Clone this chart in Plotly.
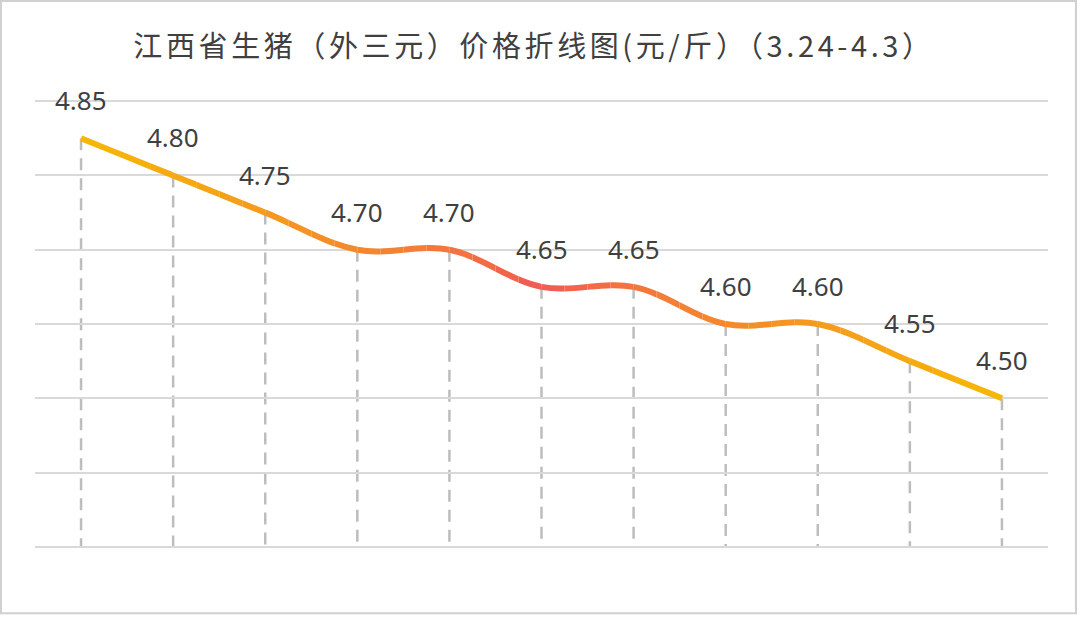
import plotly.graph_objects as go

# dates (not shown on axis) and pig prices, yuan/jin
dates = ["3.24", "3.25", "3.26", "3.27", "3.28", "3.29", "3.30", "3.31", "4.1", "4.2", "4.3"]
prices = [4.85, 4.80, 4.75, 4.70, 4.70, 4.65, 4.65, 4.60, 4.60, 4.55, 4.50]

title_text = "江西省生猪（外三元）价格折线图(元/斤）（3.24-4.3）"
y_min, y_max = 4.3, 4.9

RED = (242, 84, 88)
GOLD = (246, 184, 6)
N_BANDS = 44


def band_color(t):
    # t = 0 at centre of chart (red), 1 at the ends (gold)
    f = min(t, 1.0) ** 0.7
    r, g, b = [round(a + (c - a) * f) for a, c in zip(RED, GOLD)]
    return f"rgb({r},{g},{b})"


fig = go.Figure()

n = len(dates)
lo, hi = -0.5, n - 0.5
mid = (n - 1) / 2

# main x axis: full width, used by the drop lines and the labels
fig.add_trace(go.Scatter(x=dates, y=prices, mode="markers", marker=dict(opacity=0),
                         hoverinfo="skip", showlegend=False))
fig.update_layout(xaxis=dict(type="category", categoryorder="array", categoryarray=dates,
                             range=[lo, hi], visible=False, showgrid=False,
                             zeroline=False, fixedrange=True))

# dashed drop lines from each point to the bottom
for i, p in enumerate(prices):
    fig.add_shape(type="line", xref="x", yref="y", x0=i, x1=i, y0=p, y1=y_min,
                  line=dict(color="#bdbdbd", width=2.5, dash="12px,8px"), layer="between")

# the same smooth line drawn once per vertical band, each band clipped by its own x axis
for k in range(N_BANDS):
    d0, d1 = k / N_BANDS, (k + 1) / N_BANDS
    r0, r1 = lo + (hi - lo) * d0, lo + (hi - lo) * d1
    t = abs((r0 + r1) / 2 - mid) / mid
    ax_id = k + 2
    fig.add_trace(go.Scatter(
        x=dates, y=prices,
        mode="lines",
        line=dict(color=band_color(t), width=6, shape="spline", smoothing=1),
        xaxis=f"x{ax_id}", yaxis="y",
        hoverinfo="x+y",
        showlegend=False,
    ))
    fig.update_layout({f"xaxis{ax_id}": dict(
        type="category", categoryorder="array", categoryarray=dates,
        domain=[d0, d1], range=[r0, r1], anchor="y", visible=False,
        showgrid=False, zeroline=False, fixedrange=True)})

# value labels
for i, p in enumerate(prices):
    fig.add_annotation(x=i, y=p, xref="x", yref="y", text=f"{p:.2f}", showarrow=False, yshift=38,
                       font=dict(family="Noto Sans, Open Sans, sans-serif", size=26, color="#404040"))

# outer chart border
fig.add_shape(type="rect", xref="paper", yref="paper",
              x0=-0.0336, x1=1.0276, y0=-0.143, y1=1.218,
              line=dict(color="#d0d0d0", width=2), fillcolor="rgba(0,0,0,0)", layer="below")

fig.update_layout(
    width=1080, height=633,
    margin=dict(l=35, r=32, t=99, b=84),
    paper_bgcolor="white", plot_bgcolor="rgba(0,0,0,0)",
    title=dict(text=f'<span style="letter-spacing:3.6px">{title_text}</span>',
               x=534 / 1080, xref="container", xanchor="center",
               y=1 - 47 / 633, yref="container", yanchor="middle",
               font=dict(family="Noto Sans CJK SC, sans-serif", size=29, color="#404040")),
    yaxis=dict(range=[y_min - 0.003, y_max + 0.003], dtick=0.1, tick0=y_min,
               showgrid=True, gridcolor="#d9d9d9", gridwidth=1.5,
               showticklabels=False, zeroline=False, showline=False, fixedrange=True),
)

fig.write_html("out.html", config={"displayModeBar": False},
               post_script="document.body.style.margin='0px';")
